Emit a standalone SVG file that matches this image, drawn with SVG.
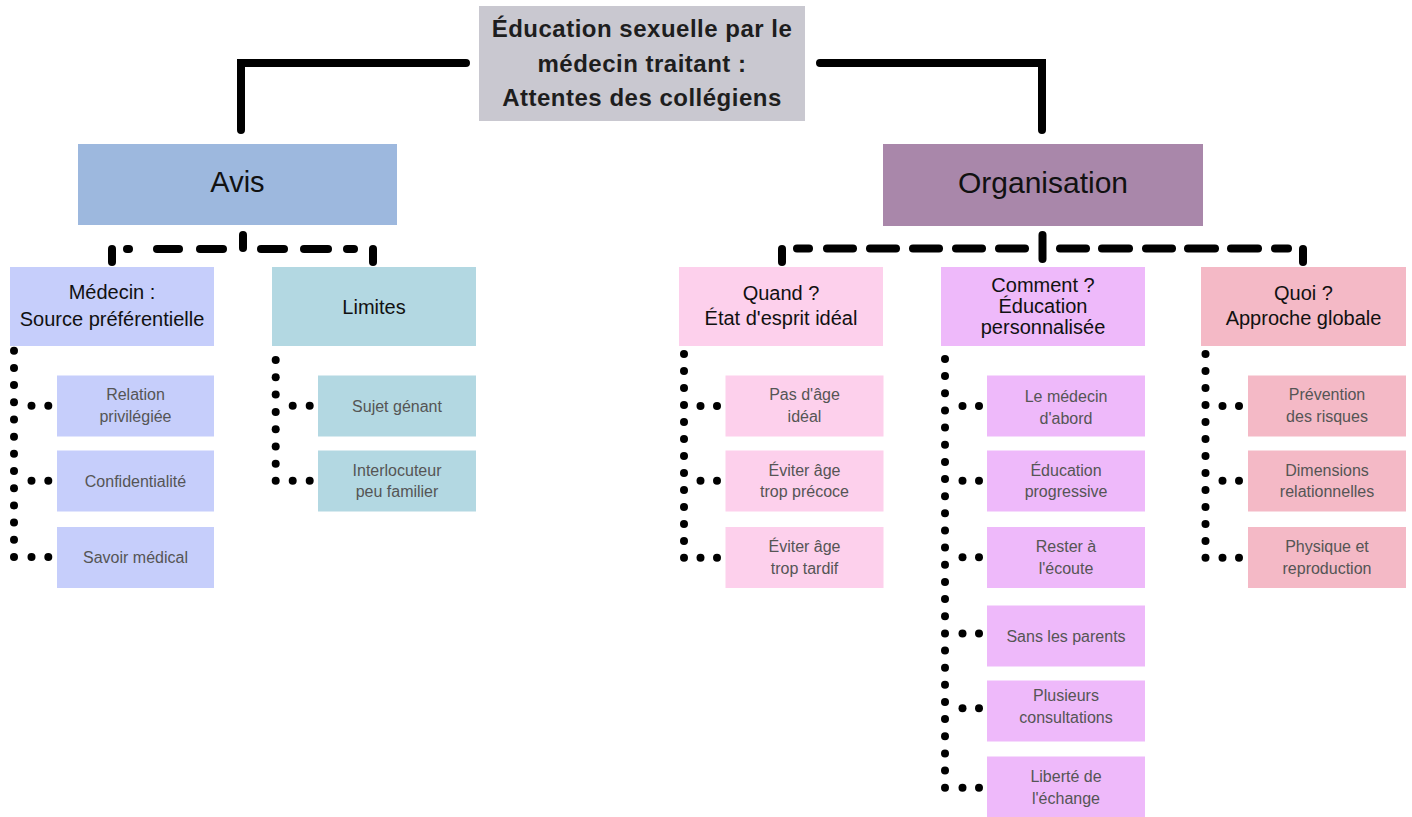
<svg xmlns="http://www.w3.org/2000/svg" width="1412" height="817" viewBox="0 0 1412 817">
<style>
text{font-family:"Liberation Sans",Arial,sans-serif;text-anchor:middle}
.title{font-size:24px;font-weight:bold;fill:#1e1e1e;letter-spacing:0.5px}
.main{font-size:29px;fill:#111}
.sub{font-size:20px;fill:#111}
.leaf{font-size:16px;fill:#555}
.solid{fill:none;stroke:#000;stroke-width:8;stroke-linecap:round;stroke-linejoin:miter}
.dash{stroke:#000;stroke-width:8;stroke-linecap:round}
.dot{fill:#000}
.c-title{fill:#c9c8d0}
.c-avis{fill:#9db8de}
.c-org{fill:#a987aa}
.c-med{fill:#c6cefb}
.c-lim{fill:#b3d8e2}
.c-quand{fill:#fdd0ec}
.c-comment{fill:#eeb9fa}
.c-quoi{fill:#f4b9c6}
</style>
<defs>
<circle id="d" r="4" class="dot"/>
</defs>

<g id="connectors">
<path class="solid" d="M466,63 H241 V130"/>
<path class="solid" d="M820,63 H1042 V130"/>
<!-- Avis dashed -->
<line class="dash" x1="112" y1="249" x2="112" y2="262"/>
<line class="dash" x1="127" y1="249" x2="129" y2="249"/>
<line class="dash" x1="157" y1="249" x2="179" y2="249"/>
<line class="dash" x1="200" y1="249" x2="223" y2="249"/>
<line class="dash" x1="243" y1="235" x2="243" y2="248"/>
<line class="dash" x1="261" y1="249" x2="284" y2="249"/>
<line class="dash" x1="304" y1="249" x2="328" y2="249"/>
<line class="dash" x1="347" y1="249" x2="354" y2="249"/>
<line class="dash" x1="373" y1="249" x2="373" y2="262"/>
<!-- Organisation dashed -->
<line class="dash" x1="782" y1="249" x2="782" y2="262"/>
<line class="dash" x1="797" y1="248.5" x2="809" y2="248.5"/>
<line class="dash" x1="827" y1="248.5" x2="853" y2="248.5"/>
<line class="dash" x1="870" y1="248.5" x2="896" y2="248.5"/>
<line class="dash" x1="913" y1="248.5" x2="939" y2="248.5"/>
<line class="dash" x1="956" y1="248.5" x2="982" y2="248.5"/>
<line class="dash" x1="999" y1="248.5" x2="1025" y2="248.5"/>
<line class="dash" x1="1042.5" y1="235" x2="1042.5" y2="259"/>
<line class="dash" x1="1060" y1="248.5" x2="1086" y2="248.5"/>
<line class="dash" x1="1102" y1="248.5" x2="1129" y2="248.5"/>
<line class="dash" x1="1146" y1="248.5" x2="1172" y2="248.5"/>
<line class="dash" x1="1188" y1="248.5" x2="1215" y2="248.5"/>
<line class="dash" x1="1231" y1="248.5" x2="1258" y2="248.5"/>
<line class="dash" x1="1275" y1="248.5" x2="1288" y2="248.5"/>
<line class="dash" x1="1303" y1="249" x2="1303" y2="262"/>

<!-- Médecin dots -->
<g transform="translate(14,0)">
<use href="#d" y="350.7"/><use href="#d" y="367.9"/><use href="#d" y="385.1"/><use href="#d" y="402.3"/><use href="#d" y="419.5"/><use href="#d" y="436.7"/><use href="#d" y="453.8"/><use href="#d" y="471"/><use href="#d" y="488.2"/><use href="#d" y="505.4"/><use href="#d" y="522.6"/><use href="#d" y="539.8"/><use href="#d" y="557"/>
<use href="#d" x="17.5" y="405.7"/><use href="#d" x="34.3" y="405.7"/>
<use href="#d" x="17.5" y="480.7"/><use href="#d" x="34.3" y="480.7"/>
<use href="#d" x="17.5" y="557"/><use href="#d" x="34.3" y="557"/>
</g>
<!-- Limites dots -->
<g transform="translate(275.7,0)">
<use href="#d" y="360"/><use href="#d" y="377.3"/><use href="#d" y="394.6"/><use href="#d" y="411.9"/><use href="#d" y="429.2"/><use href="#d" y="446.5"/><use href="#d" y="463.7"/><use href="#d" y="480.7"/>
<use href="#d" x="17" y="405.7"/><use href="#d" x="34" y="405.7"/>
<use href="#d" x="17" y="480.7"/><use href="#d" x="34" y="480.7"/>
</g>
<!-- Quand dots -->
<g transform="translate(684,0)">
<use href="#d" y="354"/><use href="#d" y="371"/><use href="#d" y="388"/><use href="#d" y="405"/><use href="#d" y="422"/><use href="#d" y="439"/><use href="#d" y="456"/><use href="#d" y="473"/><use href="#d" y="490"/><use href="#d" y="507"/><use href="#d" y="524"/><use href="#d" y="541"/><use href="#d" y="557.7"/>
<use href="#d" x="16.5" y="406"/><use href="#d" x="33" y="406"/>
<use href="#d" x="16.5" y="480.7"/><use href="#d" x="33" y="480.7"/>
<use href="#d" x="16.5" y="557.7"/><use href="#d" x="33" y="557.7"/>
</g>
<!-- Comment dots -->
<g transform="translate(945,0)">
<use href="#d" y="359"/><use href="#d" y="376.1"/><use href="#d" y="393.3"/><use href="#d" y="410.4"/><use href="#d" y="427.6"/><use href="#d" y="444.7"/><use href="#d" y="461.9"/><use href="#d" y="479"/><use href="#d" y="496.2"/><use href="#d" y="513.3"/><use href="#d" y="530.5"/><use href="#d" y="547.6"/><use href="#d" y="564.8"/><use href="#d" y="581.9"/><use href="#d" y="599.1"/><use href="#d" y="616.2"/><use href="#d" y="633.4"/><use href="#d" y="650.5"/><use href="#d" y="667.7"/><use href="#d" y="684.8"/><use href="#d" y="702"/><use href="#d" y="719.1"/><use href="#d" y="736.3"/><use href="#d" y="753.4"/><use href="#d" y="770.6"/><use href="#d" y="787.7"/>
<use href="#d" x="17.5" y="406"/><use href="#d" x="34" y="406"/>
<use href="#d" x="17.5" y="480.7"/><use href="#d" x="34" y="480.7"/>
<use href="#d" x="17.5" y="557.3"/><use href="#d" x="34" y="557.3"/>
<use href="#d" x="17.5" y="633.4"/><use href="#d" x="34" y="633.4"/>
<use href="#d" x="17.5" y="708.3"/><use href="#d" x="34" y="708.3"/>
<use href="#d" x="17.5" y="787.7"/><use href="#d" x="34" y="787.7"/>
</g>
<!-- Quoi dots -->
<g transform="translate(1205.5,0)">
<use href="#d" y="354"/><use href="#d" y="371"/><use href="#d" y="388"/><use href="#d" y="405"/><use href="#d" y="422"/><use href="#d" y="439"/><use href="#d" y="456"/><use href="#d" y="473"/><use href="#d" y="490"/><use href="#d" y="507"/><use href="#d" y="524"/><use href="#d" y="541"/><use href="#d" y="557.7"/>
<use href="#d" x="17" y="406"/><use href="#d" x="33.5" y="406"/>
<use href="#d" x="17" y="480.7"/><use href="#d" x="33.5" y="480.7"/>
<use href="#d" x="17" y="557.7"/><use href="#d" x="33.5" y="557.7"/>
</g>
</g>

<g id="title">
<rect class="c-title" x="479" y="6" width="326" height="115"/>
<text class="title" x="642" y="37">Éducation sexuelle par le</text>
<text class="title" x="642" y="72">médecin traitant :</text>
<text class="title" x="642" y="106">Attentes des collégiens</text>
</g>

<g id="avis">
<rect class="c-avis" x="78" y="144" width="319" height="81"/>
<text class="main" x="237.5" y="192">Avis</text>
</g>
<g id="organisation">
<rect class="c-org" x="883" y="144" width="320" height="82"/>
<text class="main" x="1043" y="193" style="font-size:30px">Organisation</text>
</g>

<g id="medecin">
<rect class="c-med" x="10" y="267" width="204" height="79"/>
<text class="sub" x="112" y="299">Médecin :</text>
<text class="sub" x="112" y="326">Source préférentielle</text>
</g>
<g id="relation">
<rect class="c-med" x="57" y="375.5" width="157" height="61"/>
<text class="leaf" x="135.5" y="400">Relation</text>
<text class="leaf" x="135.5" y="422">privilégiée</text>
</g>
<g id="confidentialite">
<rect class="c-med" x="57" y="450.5" width="157" height="61"/>
<text class="leaf" x="135.5" y="486.5">Confidentialité</text>
</g>
<g id="savoir">
<rect class="c-med" x="57" y="527" width="157" height="61"/>
<text class="leaf" x="135.5" y="563">Savoir médical</text>
</g>

<g id="limites">
<rect class="c-lim" x="272" y="267" width="204" height="79"/>
<text class="sub" x="374" y="314">Limites</text>
</g>
<g id="sujet">
<rect class="c-lim" x="318" y="375.5" width="158" height="61"/>
<text class="leaf" x="397" y="412">Sujet génant</text>
</g>
<g id="interlocuteur">
<rect class="c-lim" x="318" y="450.5" width="158" height="61"/>
<text class="leaf" x="397" y="475.5">Interlocuteur</text>
<text class="leaf" x="397" y="497">peu familier</text>
</g>

<g id="quand">
<rect class="c-quand" x="679" y="267" width="204" height="79"/>
<text class="sub" x="781" y="300">Quand ?</text>
<text class="sub" x="781" y="325">État d'esprit idéal</text>
</g>
<g id="pasdage">
<rect class="c-quand" x="725.5" y="375.5" width="158" height="61"/>
<text class="leaf" x="804.5" y="400">Pas d'âge</text>
<text class="leaf" x="804.5" y="422">idéal</text>
</g>
<g id="precoce">
<rect class="c-quand" x="725.5" y="450.5" width="158" height="61"/>
<text class="leaf" x="804.5" y="476">Éviter âge</text>
<text class="leaf" x="804.5" y="497">trop précoce</text>
</g>
<g id="tardif">
<rect class="c-quand" x="725.5" y="527" width="158" height="61"/>
<text class="leaf" x="804.5" y="552">Éviter âge</text>
<text class="leaf" x="804.5" y="574">trop tardif</text>
</g>

<g id="comment">
<rect class="c-comment" x="941" y="267" width="204" height="79"/>
<text class="sub" x="1043" y="292">Comment ?</text>
<text class="sub" x="1043" y="313">Éducation</text>
<text class="sub" x="1043" y="334">personnalisée</text>
</g>
<g id="medecin-abord">
<rect class="c-comment" x="987" y="375.5" width="158" height="61"/>
<text class="leaf" x="1066" y="402">Le médecin</text>
<text class="leaf" x="1066" y="424">d'abord</text>
</g>
<g id="progressive">
<rect class="c-comment" x="987" y="450.5" width="158" height="61"/>
<text class="leaf" x="1066" y="476">Éducation</text>
<text class="leaf" x="1066" y="497">progressive</text>
</g>
<g id="ecoute">
<rect class="c-comment" x="987" y="527" width="158" height="61"/>
<text class="leaf" x="1066" y="552">Rester à</text>
<text class="leaf" x="1066" y="574">l'écoute</text>
</g>
<g id="parents">
<rect class="c-comment" x="987" y="605.5" width="158" height="61"/>
<text class="leaf" x="1066" y="641.5">Sans les parents</text>
</g>
<g id="consultations">
<rect class="c-comment" x="987" y="680.5" width="158" height="61"/>
<text class="leaf" x="1066" y="701">Plusieurs</text>
<text class="leaf" x="1066" y="723">consultations</text>
</g>
<g id="echange">
<rect class="c-comment" x="987" y="756.5" width="158" height="61"/>
<text class="leaf" x="1066" y="782">Liberté de</text>
<text class="leaf" x="1066" y="804">l'échange</text>
</g>

<g id="quoi">
<rect class="c-quoi" x="1201" y="267" width="205" height="79"/>
<text class="sub" x="1303.5" y="300">Quoi ?</text>
<text class="sub" x="1303.5" y="325">Approche globale</text>
</g>
<g id="prevention">
<rect class="c-quoi" x="1248" y="375.5" width="158" height="61"/>
<text class="leaf" x="1327" y="400">Prévention</text>
<text class="leaf" x="1327" y="422">des risques</text>
</g>
<g id="dimensions">
<rect class="c-quoi" x="1248" y="450.5" width="158" height="61"/>
<text class="leaf" x="1327" y="476">Dimensions</text>
<text class="leaf" x="1327" y="497">relationnelles</text>
</g>
<g id="physique">
<rect class="c-quoi" x="1248" y="527" width="158" height="61"/>
<text class="leaf" x="1327" y="552">Physique et</text>
<text class="leaf" x="1327" y="574">reproduction</text>
</g>
</svg>
